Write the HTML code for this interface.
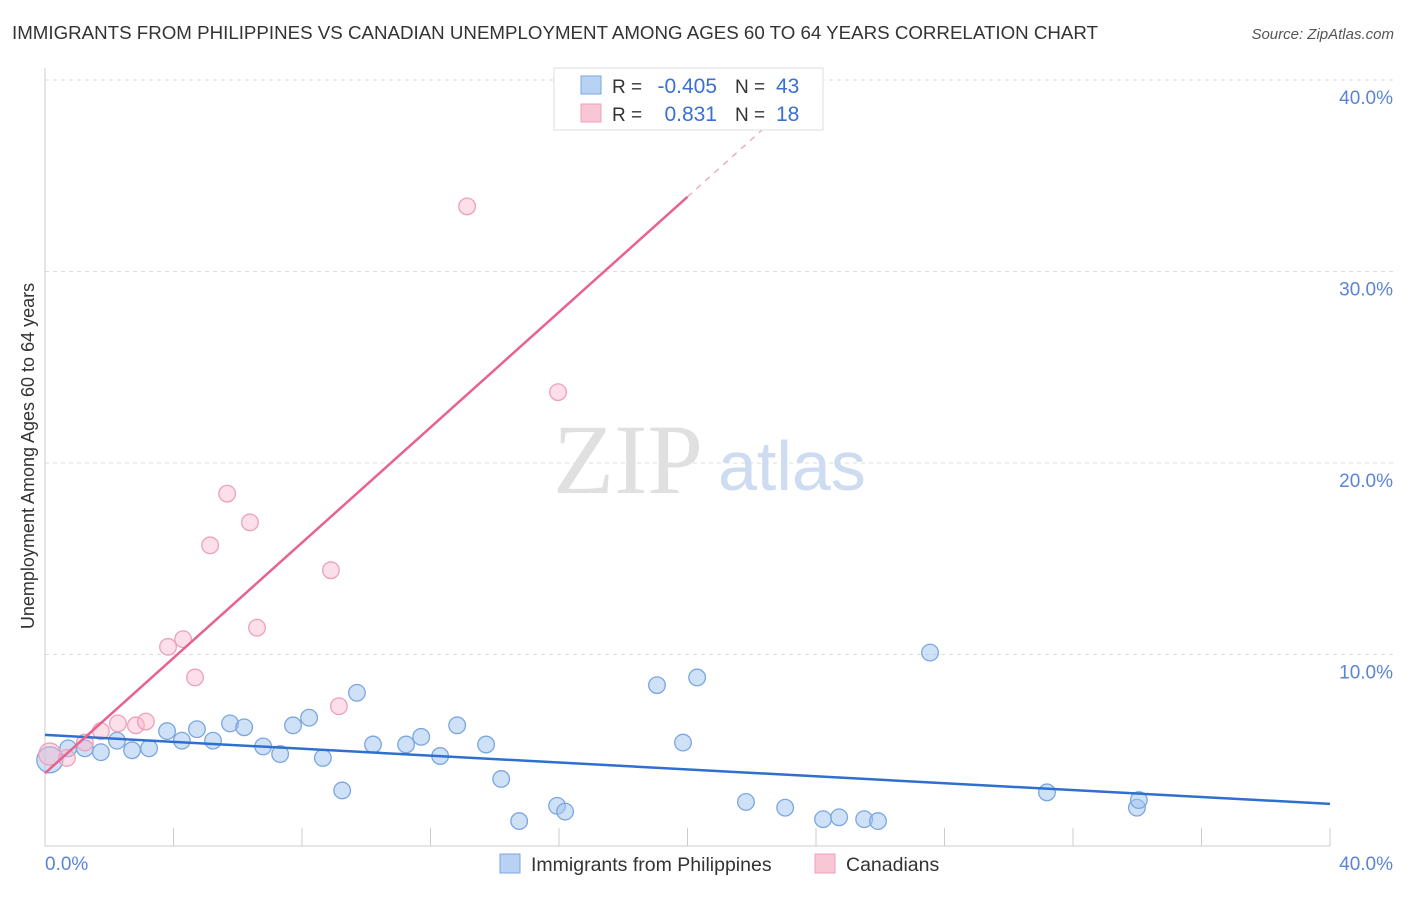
<!DOCTYPE html>
<html><head><meta charset="utf-8"><style>
body{margin:0;background:#fff;font-family:"Liberation Sans",sans-serif}
</style></head><body>
<svg id="c" width="1406" height="892" font-family="Liberation Sans, sans-serif"></svg>
<script>
const blueX=[0.15,0.72,1.24,1.74,2.24,2.71,3.24,3.8,4.26,4.73,5.23,5.76,6.2,6.79,7.32,7.72,8.22,8.65,9.25,9.71,10.21,11.24,11.71,12.3,12.83,13.73,14.2,14.76,15.94,16.19,19.05,19.86,20.3,21.82,23.04,24.22,24.72,25.5,25.93,27.55,31.19,33.99,34.05];
const blueY=[4.5,5.1,5.1,4.9,5.5,5.0,5.1,6.0,5.5,6.1,5.5,6.4,6.2,5.2,4.8,6.3,6.7,4.6,2.9,8.0,5.3,5.3,5.7,4.7,6.3,5.3,3.5,1.3,2.1,1.8,8.4,5.4,8.8,2.3,2.0,1.4,1.5,1.4,1.3,10.1,2.8,2.0,2.4];
const pinkX=[0.15,0.68,1.24,1.74,2.27,2.83,3.14,3.83,4.3,4.67,5.14,5.67,6.38,6.6,8.9,9.15,13.14,15.97];
const pinkY=[4.8,4.6,5.4,6.0,6.4,6.3,6.5,10.4,10.8,8.8,15.7,18.4,16.9,11.4,14.4,7.3,33.4,23.7];
const yTicks=[10,20,30,40];
const blueLine=[5.8,2.2], pinkLine=[3.8,33.9];
const NS="http://www.w3.org/2000/svg",svg=document.getElementById('c');
const sx=v=>45+v*32.125, sy=v=>846-v*19.15;
function el(t,a,p){const e=document.createElementNS(NS,t);for(const k in a)e.setAttribute(k,a[k]);(p||svg).appendChild(e);return e;}
function tx(x,y,s,o,p){const e=el('text',Object.assign({x,y},o),p);e.textContent=s;return e;}
let t=tx(12,39,'IMMIGRANTS FROM PHILIPPINES VS CANADIAN UNEMPLOYMENT AMONG AGES 60 TO 64 YEARS CORRELATION CHART',{'font-size':18.6,fill:'#333',textLength:1086,lengthAdjust:'spacingAndGlyphs'});

t=tx(1394,39,'Source: ZipAtlas.com',{'font-size':15,fill:'#555','text-anchor':'end','font-style':'italic'});

yTicks.forEach(v=>{const g=el('line',{x1:45,x2:1394,y1:sy(v),y2:sy(v),stroke:'#ddd','stroke-dasharray':'4,4'});

const l=tx(1393,sy(v)+24,v.toFixed(1)+'%',{'font-size':19,fill:'#5b84d6','text-anchor':'end'});
});
el('line',{x1:45,x2:45,y1:68,y2:846,stroke:'#ccc'});
el('line',{x1:45,x2:1330,y1:846,y2:846,stroke:'#ccc'});
for(let i=0;i<=10;i++){const k=el('line',{x1:sx(i*4),x2:sx(i*4),y1:828,y2:846,stroke:'#ccc'});}
t=tx(45,870,'0.0%',{'font-size':19,fill:'#5b84d6'});
t=tx(1393,870,'40.0%',{'font-size':19,fill:'#5b84d6','text-anchor':'end'});
t=tx(0,0,'Unemployment Among Ages 60 to 64 years',{'font-size':18,fill:'#333','text-anchor':'middle',transform:'translate(34,456) rotate(-90)'});

t=tx(553,493,'ZIP',{'font-size':100,fill:'#e0e0e0','font-family':'Liberation Serif, serif'});
t=tx(718,490,'atlas',{'font-size':70,fill:'#cddcf1'});
blueX.forEach((x,i)=>{const c=el('circle',{cx:sx(x),cy:sy(blueY[i]),r:i==0?13:8.3,fill:'rgba(160,196,240,0.5)',stroke:'#7aa6e0','stroke-width':1.3});
});
pinkX.forEach((x,i)=>{const c=el('circle',{cx:sx(x),cy:sy(pinkY[i]),r:i==0?11:8.3,fill:'rgba(248,185,205,0.45)',stroke:'#eea0b8','stroke-width':1.3});
});
let L=el('line',{x1:sx(0),y1:sy(blueLine[0]),x2:sx(40),y2:sy(blueLine[1]),stroke:'#2f6fd0','stroke-width':2.5});

const pk=v=>pinkLine[0]+(pinkLine[1]-pinkLine[0])*v/20;
L=el('line',{x1:sx(0),y1:sy(pk(0)),x2:sx(20),y2:sy(pk(20)),stroke:'#e8628e','stroke-width':2.5});

L=el('line',{x1:sx(20),y1:sy(pk(20)),x2:sx(24),y2:sy(pk(24)),stroke:'#f0a0b8','stroke-width':1.3,'stroke-dasharray':'6,6'});

const lg=el('g',{});
el('rect',{x:554,y:68,width:269,height:62,fill:'#fff',stroke:'#ddd'},lg);
el('rect',{x:581,y:76,width:20,height:18,fill:'#b8d2f4',stroke:'#7aa6e0'},lg);
el('rect',{x:581,y:104,width:20,height:18,fill:'#f9c6d6',stroke:'#eea0b8'},lg);
[['R = ','-0.405','N = ','43',93],['R = ','0.831','N = ','18',121]].forEach(r=>{
tx(612,r[4],r[0],{'font-size':19,fill:'#333'},lg);tx(717,r[4],r[1],{'font-size':21,fill:'#3b6fd0','text-anchor':'end'},lg);
tx(735,r[4],r[2],{'font-size':19,fill:'#333'},lg);tx(776,r[4],r[3],{'font-size':21,fill:'#3b6fd0'},lg);});
const bl=el('g',{});
el('rect',{x:500,y:854,width:20,height:19,fill:'#b8d2f4',stroke:'#7aa6e0'},bl);
tx(531,871,'Immigrants from Philippines',{'font-size':19.5,fill:'#333'},bl);
el('rect',{x:815,y:854,width:20,height:19,fill:'#f9c6d6',stroke:'#eea0b8'},bl);
tx(846,871,'Canadians',{'font-size':19.5,fill:'#333'},bl);
</script></body></html>
